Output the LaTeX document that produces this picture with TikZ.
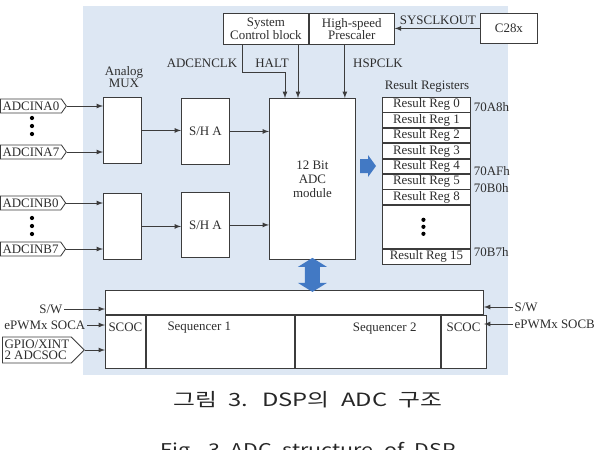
\documentclass[tikz,border=0pt]{standalone}
\usepackage{fontspec}
\setmainfont{Liberation Serif}
\newfontfamily\krfont[WordSpace=2.2]{Noto Sans CJK KR}
\usetikzlibrary{positioning,calc,shapes.symbols}
\definecolor{bgblue}{RGB}{221,231,243}
\definecolor{arrblue}{RGB}{66,121,196}
\definecolor{linegray}{RGB}{60,60,60}
\definecolor{txtgray}{RGB}{45,45,45}

\begin{document}
\begin{tikzpicture}[x=0.025cm, y=-0.025cm,
  font=\fontsize{9.2}{11}\selectfont, text=txtgray,
  blk/.style={rectangle, draw=linegray, fill=white, line width=0.6pt, inner sep=0pt},
  reg/.style={blk, minimum width=2.2cm, minimum height=0.364cm},
  tag/.style={signal, signal to=east, signal pointer angle=110, draw=linegray, fill=white,
    line width=0.6pt, inner xsep=1.5pt, inner ysep=1pt, minimum height=0.35cm},
  conn/.style={->, >=latex, draw=linegray, line width=0.6pt}]
\useasboundingbox (0,0) rectangle (594,449);
\clip (0,0) rectangle (594,449);

\fill[bgblue] (83,6) rectangle (508,375);

% clock blocks
\node (scb) [blk, anchor=north west, minimum width=2.125cm, minimum height=0.775cm, align=center] at (223,13) {System\\[-2pt]Control block};
\node (hsp) [blk, right=0pt of scb, minimum width=2.125cm, minimum height=0.775cm, align=center] {High-speed\\[-2pt]Prescaler};
\node (c28) [blk, anchor=north west, minimum width=1.425cm, minimum height=0.75cm] at (480,13) {C28x};

% analog path
\node (muxa) [blk, anchor=north west, minimum width=0.95cm, minimum height=1.65cm] at (103,97) {};
\node (sha) [blk, anchor=north west, minimum width=1.2cm, minimum height=1.65cm] at (181,98) {S/H A};
\node (muxb) [blk, anchor=north west, minimum width=0.95cm, minimum height=1.65cm] at (103,193) {};
\node (shb) [blk, anchor=north west, minimum width=1.2cm, minimum height=1.625cm] at (181,192) {S/H A};
\node (adc) [blk, anchor=north west, minimum width=2.15cm, minimum height=4.025cm, align=center] at (269,98) {12 Bit\\[-1pt]ADC\\[-1pt]module};

\node (mux) [align=center] at (124,77) {Analog\\[-2pt]MUX};

\node (ina0) [tag, anchor=west] at (0,106) {ADCINA0};
\node (ina7) [tag, anchor=west] at (0,152) {ADCINA7};
\node (inb0) [tag, anchor=west] at (0,203) {ADCINB0};
\node (inb7) [tag, anchor=west] at (0,249) {ADCINB7};
\foreach \y in {118,126,134,218,226,234}
  \fill[black] (32,\y) circle[radius=1.5pt];

% result registers
\node (rr) at (427,86) {Result Registers};
\node (reg0) [reg, anchor=north west] at (382,97) {Result Reg 0};
\foreach \i/\p in {1/0,2/1,3/2,4/3,5/4,8/5}
  \node (reg\i) [reg, below=0pt of reg\p] {Result Reg \i};
\node (regdots) [reg, below=0pt of reg8, minimum height=1.075cm] {};
\node (reg15) [reg, below=0pt of regdots, minimum height=0.375cm] {Result Reg 15};
\foreach \y in {-7,0,7}
  \fill[black] ($(regdots.center)+(-3,\y)$) circle[radius=1.5pt];

\node [anchor=west] at (469,107) {70A8h};
\node [anchor=west] at (469,171) {70AFh};
\node [anchor=west] at (469,188) {70B0h};
\node [anchor=west] at (469,252) {70B7h};

% sequencer
\node (seq) [blk, anchor=north west, minimum width=9.45cm, minimum height=0.6cm] at (105,290) {};
\node (scoc1) [blk, anchor=north west, minimum width=1cm, minimum height=1.325cm] at (seq.south west) {};
\node (seq1) [blk, right=0pt of scoc1, minimum width=3.7cm, minimum height=1.325cm] {};
\node (seq2) [blk, right=0pt of seq1, minimum width=3.625cm, minimum height=1.325cm] {};
\node (scoc2) [blk, right=0pt of seq2, minimum width=1.125cm, minimum height=1.325cm] {};
\node at ($(scoc1.north)+(0,12)$) {SCOC};
\node at ($(seq1.north)+(-21,13)$) {Sequencer 1};
\node at ($(seq2.north)+(17,14)$) {Sequencer 2};
\node at ($(scoc2.north)+(0,12)$) {SCOC};

\node (sw1) [anchor=east, inner sep=1pt] at (64,309) {S/W};
\node (soca) [anchor=east, inner sep=1pt] at (87,325) {ePWMx SOCA};
\node (gpio) [tag, signal pointer angle=90, anchor=west, align=left, minimum height=0.65cm, inner ysep=0pt] at (2,350) {GPIO/XINT\\[-3pt]2 ADCSOC};
\node (sw2) [anchor=west, inner sep=1pt] at (513,307) {S/W};
\node (socb) [anchor=west, inner sep=1pt] at (513,324) {ePWMx SOCB};

% labels on clock lines
\node at (202,63) {ADCENCLK};
\node at (272,63) {HALT};
\node at (378,63) {HSPCLK};
\node at (438,20) {SYSCLKOUT};

% connectors
\foreach \a in {ina0,ina7} \draw[conn] (\a.east) -- (\a.east -| muxa.west);
\foreach \a in {inb0,inb7} \draw[conn] (\a.east) -- (\a.east -| muxb.west);
\draw[conn] (muxa.east) -- (muxa.east -| sha.west);
\draw[conn] (sha.east) -- (sha.east -| adc.west);
\draw[conn] (muxb.east) -- (muxb.east -| shb.west);
\draw[conn] (shb.east) -- (shb.east -| adc.west);

\coordinate (halt0) at ($(scb.south west)+(19,0)$);
\coordinate (halt) at (285,72);
\coordinate (enclk) at ($(scb.south west)+(75,0)$);
\coordinate (hspclk) at ($(hsp.south west)+(36,0)$);
\draw[conn] (halt0) |- (halt) -- (halt |- adc.north);
\draw[conn] (enclk) -- (enclk |- adc.north);
\draw[conn] (hspclk) -- (hspclk |- adc.north);
\draw[conn] (c28.west) -- (c28.west -| hsp.east);

\draw[conn] (sw1.east) -- (sw1.east -| seq.west);
\draw[conn] (soca.east) -- (soca.east -| seq.west);
\draw[conn] (gpio.east) -- (gpio.east -| seq.west);
\draw[conn] (sw2.west) -- (sw2.west -| seq.east);
\draw[conn] (socb.west) -- (socb.west -| seq.east);

% blue data arrows
\coordinate (ra) at (360,166);
\fill[arrblue, shift={(ra)}] (0,-7) -- (8,-7) -- (8,-11) -- (16,0) -- (8,11) -- (8,7) -- (0,7) -- cycle;
\coordinate (da) at (adc.south);
\fill[arrblue, shift={(da)}] (0,-2) -- (14.5,7) -- (7.5,7) -- (7.5,23) -- (14.5,23) -- (0,32)
  -- (-14.5,23) -- (-7.5,23) -- (-7.5,7) -- (-14.5,7) -- cycle;

% caption
\node (cap1) [anchor=base, text=black!85, font=\krfont\fontsize{13}{15}\selectfont] at (308,406) {\scalebox{1.3}[1]{그림 3. DSP의 ADC 구조}};
\node (cap2) [anchor=base, text=black!85, font=\krfont\fontsize{12.5}{14}\selectfont] at (308,456) {\scalebox{1.22}[1]{Fig. 3 ADC structure of DSP}};
\end{tikzpicture}
\end{document}
